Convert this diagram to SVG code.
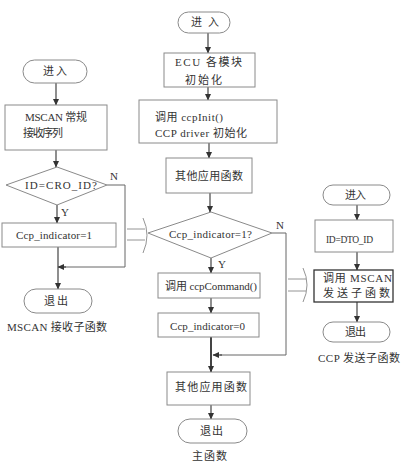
<svg xmlns="http://www.w3.org/2000/svg" width="409" height="468" viewBox="0 0 409 468">
<defs>
<marker id="ah" markerWidth="7" markerHeight="7" refX="6" refY="3.5" orient="auto" markerUnits="userSpaceOnUse">
<path d="M0,0.5 L6.5,3.5 L0,6.5 Z" fill="#333"/>
</marker>
</defs>
<style>
.box{fill:#fff;stroke:#8a8a8a;stroke-width:1}
.dark{stroke:#333;stroke-width:1.3}
.term{fill:#fff;stroke:#8a8a8a;stroke-width:1}
.t{font-family:"Liberation Serif","Noto Sans CJK SC",serif;font-size:11px;fill:#333}
.sm{font-size:9.5px}
.ln{fill:none;stroke:#666;stroke-width:1}
.arr{fill:none;stroke:#444;stroke-width:1.2;marker-end:url(#ah)}
.wide{fill:none;stroke:#888;stroke-width:0.9}
</style>
<rect width="409" height="468" fill="#fff"/>

<g id="connectors">
<!-- left -->
<line class="arr" x1="56" y1="83" x2="56" y2="105"/>
<line class="arr" x1="56" y1="150" x2="56" y2="167"/>
<line class="arr" x1="57" y1="205" x2="57" y2="223"/>
<polyline class="ln" points="107,185 125,185 125,267 64,267"/>
<line class="arr" x1="66" y1="267" x2="58" y2="267"/>
<line class="arr" x1="58" y1="247" x2="58" y2="289"/>
<!-- main -->
<line class="arr" x1="208" y1="33" x2="208" y2="53"/>
<line class="arr" x1="208" y1="87" x2="208" y2="100"/>
<line class="arr" x1="209" y1="143" x2="209" y2="158"/>
<line class="arr" x1="210" y1="193" x2="210" y2="212"/>
<line class="arr" x1="211" y1="258" x2="211" y2="273"/>
<line class="arr" x1="211" y1="298" x2="211" y2="313"/>
<line class="arr" x1="211" y1="337" x2="211" y2="372" style="stroke-width:2"/>
<polyline class="ln" points="272,233 286,233 286,355 220,355"/>
<line class="arr" x1="222" y1="355" x2="213" y2="355"/>
<line class="arr" x1="211" y1="405" x2="211" y2="419"/>
<!-- right -->
<line class="arr" x1="357" y1="205" x2="357" y2="220"/>
<line class="arr" x1="357" y1="252" x2="357" y2="270"/>
<line class="arr" x1="357" y1="302" x2="357" y2="322"/>
<!-- wide arrows -->
<line class="wide" x1="127" y1="229" x2="145" y2="229"/>
<line class="wide" x1="127" y1="240" x2="145" y2="240"/>
<path class="wide" d="M143,218 Q151,235 143,253"/>
<line class="wide" x1="288" y1="279" x2="306" y2="279"/>
<line class="wide" x1="288" y1="291" x2="306" y2="291"/>
<path class="wide" d="M303,268 Q311,285 303,302"/>
</g>

<g id="left-enter">
<rect class="term" x="23" y="60" width="64" height="23" rx="11.5"/>
<text class="t" x="43" y="75" textLength="24" lengthAdjust="spacing">进入</text>
</g>
<g id="left-receive">
<rect class="box" x="5" y="105" width="102" height="45"/>
<text class="t" x="25" y="121" textLength="62" lengthAdjust="spacing">MSCAN 常规</text>
<text class="t" x="23" y="137" textLength="40" lengthAdjust="spacing">接收序列</text>
</g>
<g id="left-decision">
<polygon class="box" points="57,167 107,185 57,205 6,185"/>
<text class="t" x="25" y="189" textLength="72" lengthAdjust="spacing">ID=CRO_ID?</text>
<text class="t" x="110" y="180">N</text>
<text class="t" x="61" y="216">Y</text>
</g>
<g id="left-set">
<rect class="box" x="2" y="223" width="114" height="24"/>
<text class="t" x="16" y="239" textLength="76" lengthAdjust="spacing">Ccp_indicator=1</text>
</g>
<g id="left-exit">
<rect class="term" x="24" y="289" width="68" height="24" rx="12"/>
<text class="t" x="44" y="305" textLength="24" lengthAdjust="spacing">退出</text>
</g>
<g id="left-title">
<text class="t" x="7" y="331" textLength="100" lengthAdjust="spacing">MSCAN 接收子函数</text>
</g>

<g id="main-enter">
<rect class="term" x="178" y="12" width="52" height="21" rx="10.5"/>
<text class="t" x="191" y="26" textLength="28" lengthAdjust="spacing">进入</text>
</g>
<g id="main-ecu">
<rect class="box" x="164" y="53" width="91" height="34"/>
<text class="t" x="175" y="66" textLength="67" lengthAdjust="spacing">ECU 各模块</text>
<text class="t" x="185" y="84" textLength="37" lengthAdjust="spacing">初始化</text>
</g>
<g id="main-ccpinit">
<rect class="box" x="139" y="100" width="138" height="43"/>
<text class="t" x="155" y="121" textLength="68" lengthAdjust="spacing">调用 ccpInit()</text>
<text class="t" x="155" y="137" textLength="92" lengthAdjust="spacing">CCP driver 初始化</text>
</g>
<g id="main-other1">
<rect class="box" x="166" y="158" width="86" height="35"/>
<text class="t" x="175" y="180" textLength="68" lengthAdjust="spacing">其他应用函数</text>
</g>
<g id="main-decision">
<polygon class="box" points="211,212 272,233 211,258 148,233"/>
<text class="t" x="169" y="238" textLength="83" lengthAdjust="spacing">Ccp_indicator=1?</text>
<text class="t" x="276" y="229">N</text>
<text class="t" x="218" y="268">Y</text>
</g>
<g id="main-command">
<rect class="box" x="158" y="273" width="102" height="25"/>
<text class="t" x="165" y="290" textLength="92" lengthAdjust="spacing">调用 ccpCommand()</text>
</g>
<g id="main-reset">
<rect class="box" x="158" y="313" width="101" height="24"/>
<text class="t" x="170" y="330" textLength="75" lengthAdjust="spacing">Ccp_indicator=0</text>
</g>
<g id="main-other2">
<rect class="box" x="167" y="372" width="83" height="33"/>
<text class="t" x="175" y="391" textLength="72" lengthAdjust="spacing">其他应用函数</text>
</g>
<g id="main-exit">
<rect class="term" x="178" y="419" width="69" height="24" rx="12"/>
<text class="t" x="200" y="435" textLength="23" lengthAdjust="spacing">退出</text>
</g>
<g id="main-title">
<text class="t" x="192" y="460" textLength="35" lengthAdjust="spacing">主函数</text>
</g>

<g id="right-enter">
<rect class="term" x="323" y="185" width="67" height="20" rx="10"/>
<text class="t" x="345" y="199" textLength="21" lengthAdjust="spacing">进入</text>
</g>
<g id="right-id">
<rect class="box" x="315" y="220" width="78" height="32"/>
<text class="t sm" x="326" y="243" textLength="47" lengthAdjust="spacing">ID=DTO_ID</text>
</g>
<g id="right-send">
<rect class="box dark" x="314" y="270" width="79" height="32"/>
<text class="t" x="323" y="282" textLength="69" lengthAdjust="spacing">调用 MSCAN</text>
<text class="t" x="323" y="297" textLength="67" lengthAdjust="spacing">发送子函数</text>
</g>
<g id="right-exit">
<rect class="term" x="323" y="322" width="67" height="20" rx="10"/>
<text class="t" x="345" y="336" textLength="21" lengthAdjust="spacing">退出</text>
</g>
<g id="right-title">
<text class="t" x="318" y="362" textLength="82" lengthAdjust="spacing">CCP 发送子函数</text>
</g>
</svg>
